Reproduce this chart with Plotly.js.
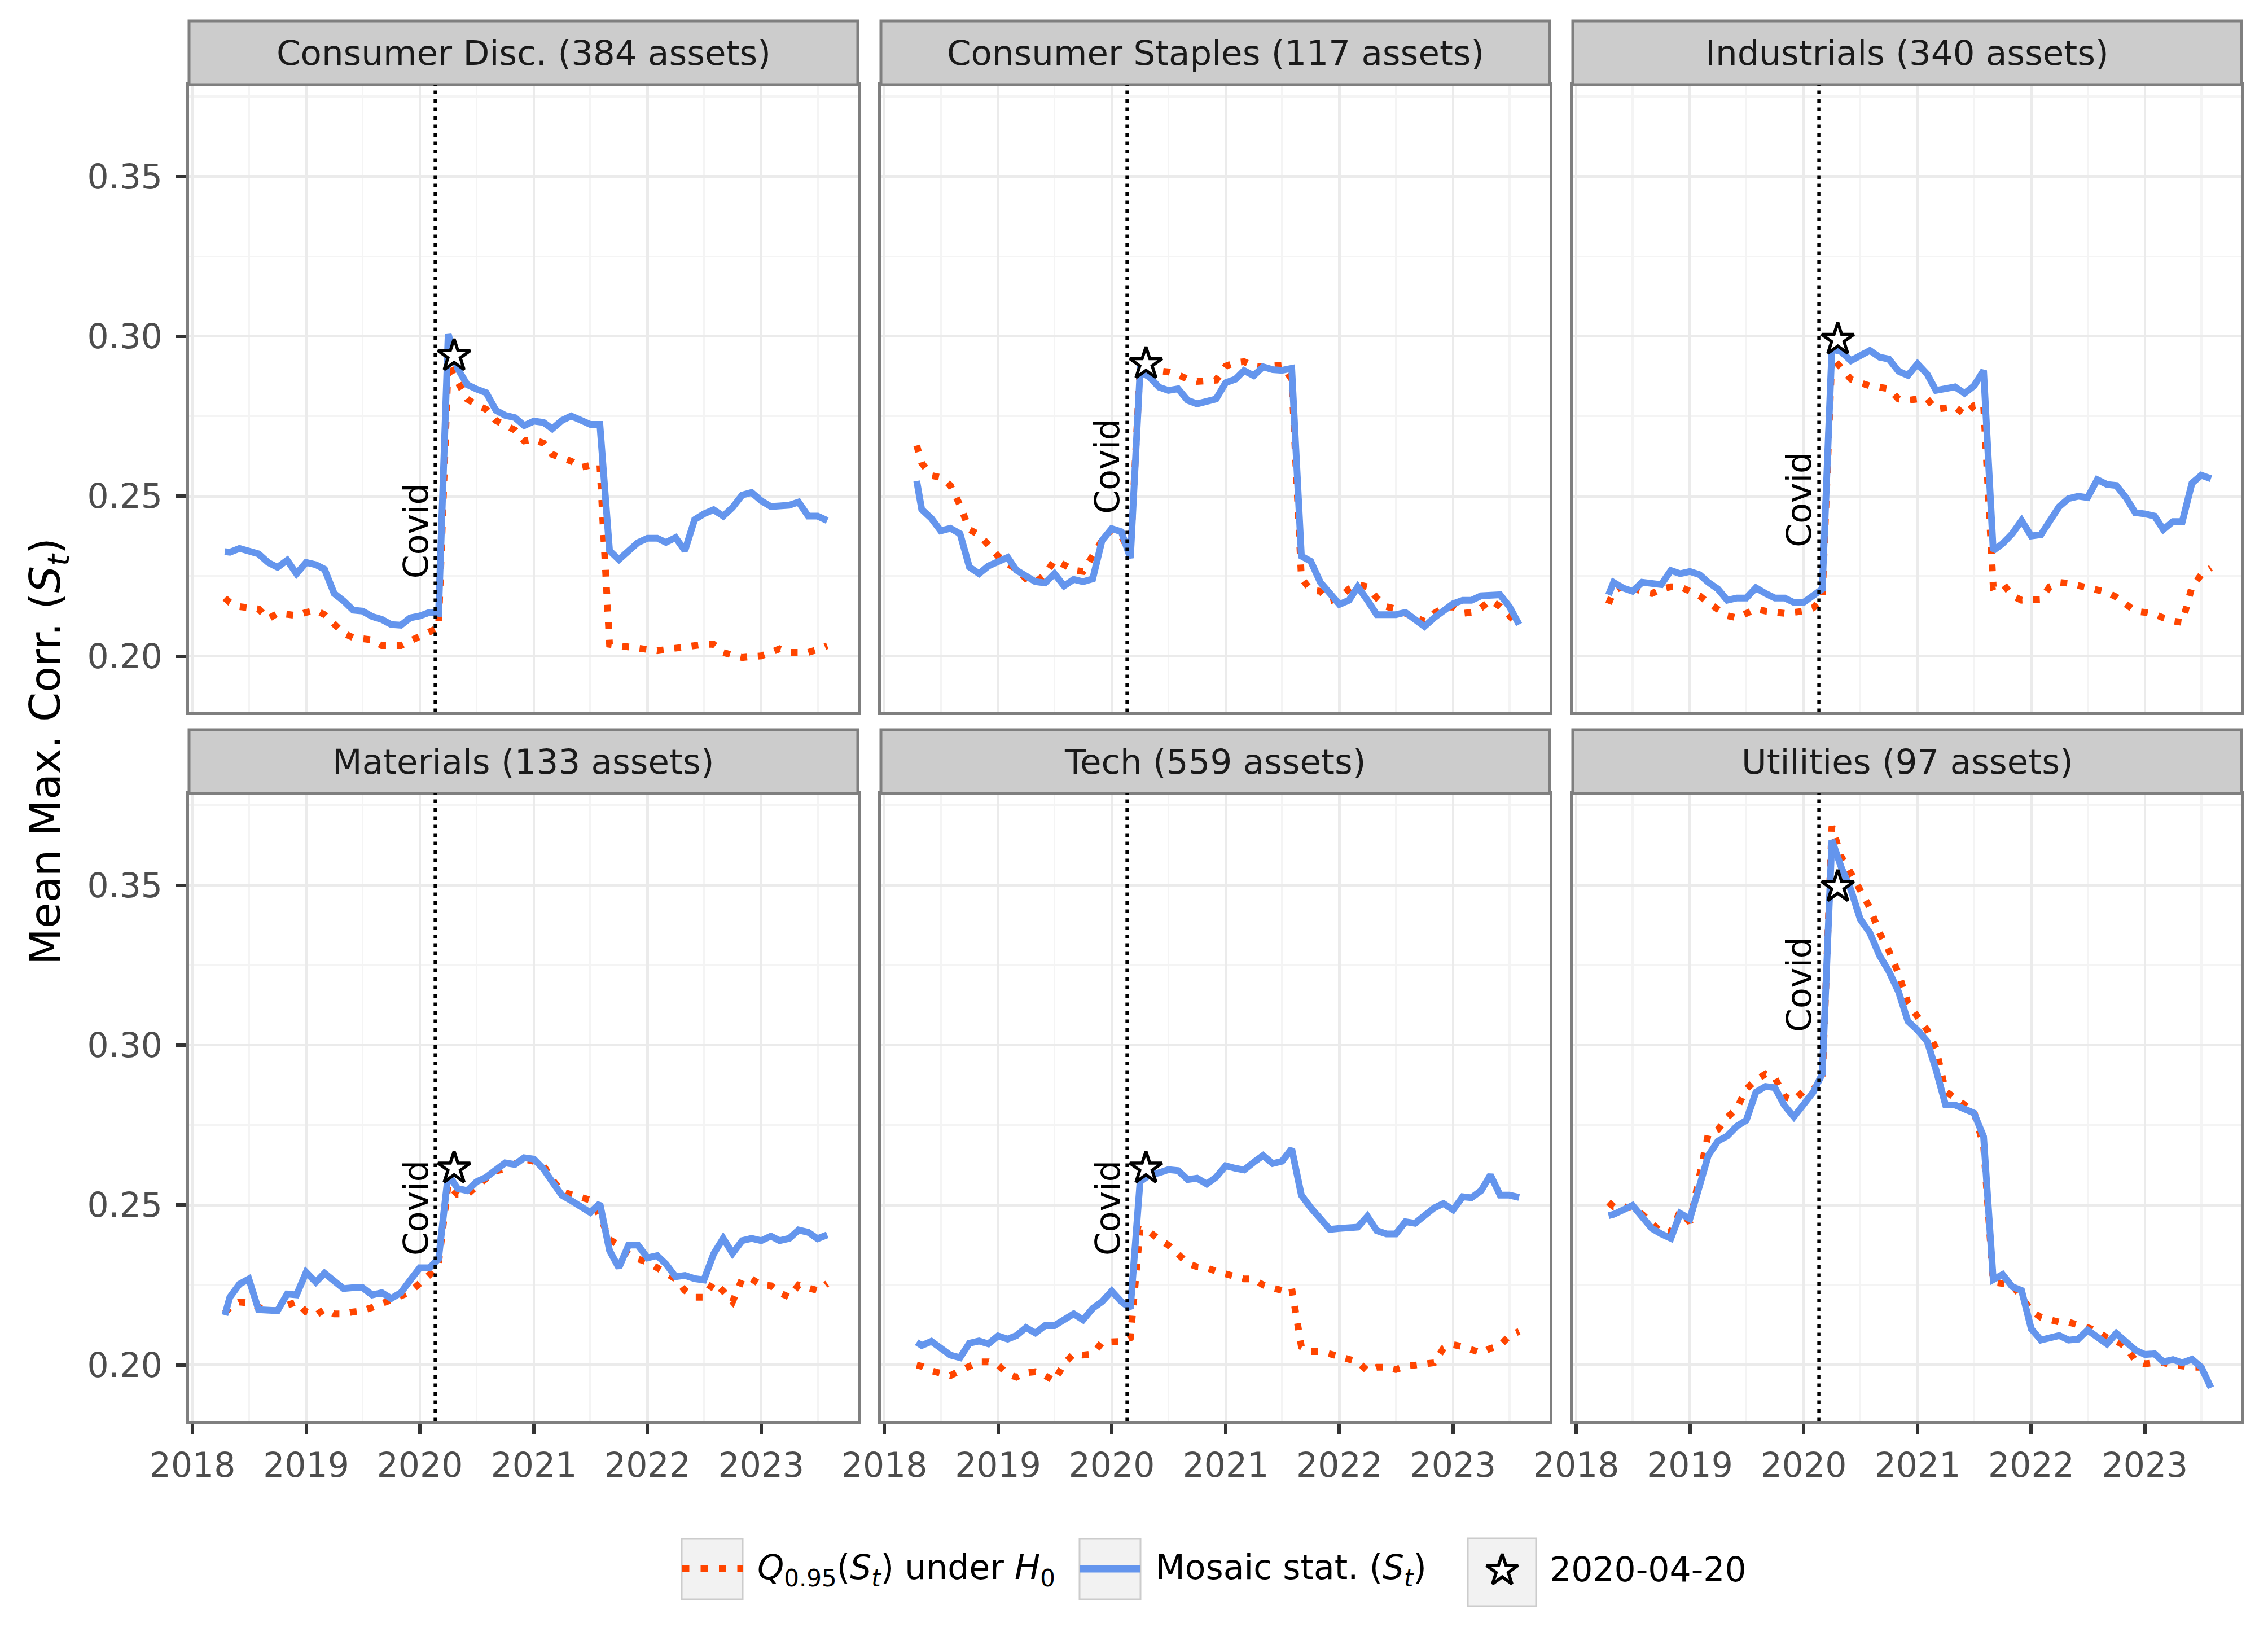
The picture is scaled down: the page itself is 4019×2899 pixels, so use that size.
<!DOCTYPE html>
<html>
<head>
<meta charset="utf-8">
<script src="https://cdn.plot.ly/plotly-3.0.1.min.js"></script>
<style>
html,body{margin:0;padding:0;background:#ffffff;}
#chart{width:4019px;height:2899px;}
</style>
</head>
<body>
<div id="chart"></div>
<script>
// ---------------- DATA ----------------
const dates = [
  "2018-04-15","2018-05-01","2018-06-01","2018-07-01","2018-08-01","2018-09-01","2018-10-01","2018-11-01","2018-12-01",
  "2019-01-01","2019-02-01","2019-03-01","2019-04-01","2019-05-01","2019-06-01","2019-07-01","2019-08-01","2019-09-01","2019-10-01","2019-11-01","2019-12-01",
  "2020-01-01","2020-02-01","2020-03-01","2020-04-01","2020-05-01","2020-06-01","2020-07-01","2020-08-01","2020-09-01","2020-10-01","2020-11-01","2020-12-01",
  "2021-01-01","2021-02-01","2021-03-01","2021-04-01","2021-05-01","2021-06-01","2021-07-01","2021-08-01","2021-09-01","2021-10-01","2021-11-01","2021-12-01",
  "2022-01-01","2022-02-01","2022-03-01","2022-04-01","2022-05-01","2022-06-01","2022-07-01","2022-08-01","2022-09-01","2022-10-01","2022-11-01","2022-12-01",
  "2023-01-01","2023-02-01","2023-03-01","2023-04-01","2023-05-01","2023-06-01","2023-07-01","2023-08-01"
];

const sectors = [
  "Consumer Disc. (384 assets)",
  "Consumer Staples (117 assets)",
  "Industrials (340 assets)",
  "Materials (133 assets)",
  "Tech (559 assets)",
  "Utilities (97 assets)"
];

// Mosaic statistic S_t
const mosaicConsDisc = [
  0.2327,0.2325,0.2337,0.2326,0.2320,0.2293,0.2278,0.2300,0.2258,
  0.2293,0.2286,0.2272,0.2196,0.2173,0.2144,0.2141,0.2124,0.2115,0.2099,0.2097,0.2120,
  0.2126,0.2137,0.2134,0.3008,0.2900,0.2849,0.2835,0.2824,0.2769,0.2753,0.2746,0.2721,
  0.2735,0.2731,0.2711,0.2737,0.2751,0.2739,0.2725,0.2725,0.2330,0.2302,0.2330,0.2355,
  0.2369,0.2369,0.2356,0.2371,0.2330,0.2427,0.2445,0.2458,0.2438,0.2465,0.2504,0.2512,
  0.2486,0.2468,0.2470,0.2472,0.2482,0.2438,0.2438,0.2424
];
const mosaicConsStap = [
  0.2548,0.2459,0.2431,0.2392,0.2400,0.2383,0.2279,0.2258,0.2282,
  0.2297,0.2309,0.2269,0.2251,0.2233,0.2229,0.2258,0.2220,0.2240,0.2233,0.2242,0.2362,
  0.2399,0.2389,0.2307,0.2890,0.2873,0.2841,0.2831,0.2836,0.2800,0.2789,0.2794,0.2804,
  0.2855,0.2866,0.2893,0.2877,0.2905,0.2896,0.2894,0.2900,0.2313,0.2297,0.2231,0.2199,
  0.2162,0.2175,0.2217,0.2175,0.2130,0.2130,0.2130,0.2137,0.2112,0.2093,0.2120,0.2145,
  0.2164,0.2175,0.2175,0.2189,0.2193,0.2192,0.2155,0.2099
];
const mosaicIndust = [
  0.2192,0.2231,0.2213,0.2203,0.2231,0.2225,0.2224,0.2268,0.2258,
  0.2265,0.2255,0.2231,0.2210,0.2175,0.2182,0.2182,0.2214,0.2196,0.2182,0.2182,0.2168,
  0.2168,0.2189,0.2210,0.2960,0.2952,0.2924,0.2942,0.2956,0.2935,0.2929,0.2891,0.2878,
  0.2914,0.2882,0.2831,0.2836,0.2842,0.2822,0.2845,0.2893,0.2330,0.2352,0.2383,0.2424,
  0.2376,0.2380,0.2424,0.2468,0.2493,0.2500,0.2496,0.2552,0.2537,0.2534,0.2496,0.2449,
  0.2445,0.2438,0.2396,0.2421,0.2421,0.2541,0.2566,0.2555
];
const mosaicMater = [
  0.2156,0.2212,0.2253,0.2269,0.2173,0.2173,0.2170,0.2222,0.2219,
  0.2290,0.2259,0.2287,0.2262,0.2239,0.2242,0.2242,0.2219,0.2226,0.2208,0.2226,0.2265,
  0.2304,0.2304,0.2332,0.2597,0.2552,0.2545,0.2573,0.2587,0.2608,0.2632,0.2627,0.2648,
  0.2644,0.2613,0.2573,0.2531,0.2514,0.2495,0.2477,0.2505,0.2358,0.2304,0.2375,0.2375,
  0.2335,0.2342,0.2316,0.2276,0.2280,0.2270,0.2266,0.2347,0.2396,0.2349,0.2389,0.2396,
  0.2389,0.2403,0.2389,0.2396,0.2422,0.2415,0.2395,0.2407
];
const mosaicTech = [
  0.2071,0.2061,0.2074,0.2050,0.2031,0.2023,0.2068,0.2075,0.2066,
  0.2091,0.2081,0.2092,0.2117,0.2100,0.2123,0.2123,0.2141,0.2160,0.2141,0.2177,0.2198,
  0.2231,0.2198,0.2177,0.2573,0.2594,0.2601,0.2611,0.2608,0.2580,0.2584,0.2566,0.2587,
  0.2623,0.2615,0.2610,0.2634,0.2655,0.2630,0.2637,0.2676,0.2531,0.2492,0.2460,0.2424,
  0.2427,0.2427,0.2431,0.2465,0.2420,0.2410,0.2410,0.2448,0.2443,0.2467,0.2491,0.2505,
  0.2485,0.2526,0.2523,0.2545,0.2594,0.2531,0.2531,0.2524
];
const mosaicUtil = [
  0.2467,0.2471,0.2485,0.2499,0.2463,0.2427,0.2410,0.2396,0.2474,
  0.2457,0.2560,0.2655,0.2700,0.2716,0.2747,0.2765,0.2853,0.2871,0.2867,0.2811,0.2776,
  0.2811,0.2853,0.2910,0.3641,0.3556,0.3486,0.3394,0.3351,0.3280,0.3231,0.3167,0.3075,
  0.3047,0.3012,0.2924,0.2813,0.2813,0.2799,0.2788,0.2714,0.2267,0.2283,0.2245,0.2233,
  0.2113,0.2078,0.2085,0.2092,0.2078,0.2081,0.2109,0.2085,0.2066,0.2099,0.2071,0.2047,
  0.2033,0.2035,0.2010,0.2017,0.2007,0.2018,0.1993,0.1929
];

// Q_0.95(S_t) under H_0
const qConsDisc = [
  0.2182,0.2168,0.2155,0.2151,0.2148,0.2117,0.2134,0.2131,0.2127,
  0.2137,0.2144,0.2130,0.2099,0.2072,0.2058,0.2055,0.2051,0.2033,0.2032,0.2033,0.2048,
  0.2065,0.2076,0.2090,0.2915,0.2859,0.2804,0.2786,0.2772,0.2737,0.2721,0.2707,0.2673,
  0.2677,0.2666,0.2631,0.2620,0.2610,0.2590,0.2597,0.2597,0.2037,0.2033,0.2030,0.2028,
  0.2023,0.2017,0.2021,0.2026,0.2030,0.2037,0.2037,0.2037,0.2012,0.2003,0.1996,0.1999,
  0.2001,0.2012,0.2023,0.2012,0.2010,0.2012,0.2021,0.2033
];
const qConsStap = [
  0.2659,0.2604,0.2565,0.2559,0.2534,0.2472,0.2396,0.2380,0.2348,
  0.2313,0.2289,0.2272,0.2242,0.2231,0.2255,0.2300,0.2286,0.2269,0.2265,0.2311,0.2362,
  0.2396,0.2376,0.2320,0.2900,0.2896,0.2893,0.2889,0.2880,0.2866,0.2859,0.2859,0.2863,
  0.2907,0.2918,0.2921,0.2907,0.2905,0.2907,0.2910,0.2866,0.2244,0.2207,0.2203,0.2173,
  0.2182,0.2210,0.2224,0.2217,0.2182,0.2155,0.2148,0.2134,0.2120,0.2109,0.2134,0.2151,
  0.2155,0.2134,0.2137,0.2151,0.2175,0.2155,0.2127,0.2093
];
const qIndust = [
  0.2164,0.2203,0.2221,0.2210,0.2203,0.2196,0.2210,0.2217,0.2217,
  0.2203,0.2189,0.2167,0.2144,0.2127,0.2120,0.2134,0.2148,0.2141,0.2137,0.2134,0.2137,
  0.2141,0.2151,0.2182,0.2935,0.2900,0.2866,0.2855,0.2845,0.2841,0.2836,0.2804,0.2800,
  0.2804,0.2804,0.2772,0.2776,0.2780,0.2755,0.2783,0.2786,0.2217,0.2228,0.2189,0.2175,
  0.2175,0.2178,0.2217,0.2231,0.2228,0.2220,0.2214,0.2206,0.2200,0.2185,0.2164,0.2141,
  0.2137,0.2131,0.2120,0.2110,0.2106,0.2217,0.2255,0.2276
];
const qMater = [
  0.2163,0.2180,0.2197,0.2194,0.2181,0.2170,0.2170,0.2187,0.2197,
  0.2166,0.2156,0.2174,0.2160,0.2160,0.2166,0.2170,0.2180,0.2194,0.2205,0.2216,0.2229,
  0.2255,0.2282,0.2318,0.2566,0.2533,0.2533,0.2559,0.2584,0.2607,0.2613,0.2627,0.2644,
  0.2637,0.2623,0.2580,0.2542,0.2533,0.2526,0.2516,0.2467,0.2392,0.2375,0.2349,0.2332,
  0.2321,0.2304,0.2290,0.2269,0.2233,0.2212,0.2212,0.2259,0.2231,0.2198,0.2269,0.2269,
  0.2250,0.2248,0.2226,0.2212,0.2250,0.2241,0.2233,0.2255
];
const qTech = [
  0.2000,0.1996,0.1982,0.1976,0.1967,0.1982,0.1993,0.2010,0.2010,
  0.2000,0.1972,0.1962,0.1976,0.1979,0.1967,0.1950,0.2004,0.2035,0.2031,0.2035,0.2071,
  0.2071,0.2074,0.2085,0.2424,0.2417,0.2392,0.2375,0.2349,0.2318,0.2307,0.2304,0.2293,
  0.2283,0.2273,0.2269,0.2269,0.2250,0.2241,0.2233,0.2239,0.2057,0.2042,0.2042,0.2035,
  0.2027,0.2021,0.2010,0.1982,0.1993,0.1993,0.1986,0.1996,0.2000,0.2004,0.2007,0.2052,
  0.2064,0.2057,0.2047,0.2038,0.2052,0.2061,0.2092,0.2105
];
const qUtil = [
  0.2509,0.2495,0.2495,0.2491,0.2471,0.2439,0.2415,0.2417,0.2481,
  0.2446,0.2600,0.2722,0.2736,0.2774,0.2802,0.2863,0.2891,0.2910,0.2898,0.2839,0.2828,
  0.2856,0.2863,0.2884,0.3684,0.3589,0.3538,0.3486,0.3429,0.3351,0.3295,0.3224,0.3132,
  0.3089,0.3047,0.2990,0.2856,0.2835,0.2816,0.2792,0.2686,0.2259,0.2255,0.2250,0.2212,
  0.2170,0.2149,0.2141,0.2134,0.2134,0.2127,0.2117,0.2106,0.2085,0.2075,0.2057,0.2014,
  0.2004,0.2007,0.2007,0.2001,0.1996,0.1993,0.1993,0.1979
];

const mosaicSeries = [mosaicConsDisc, mosaicConsStap, mosaicIndust, mosaicMater, mosaicTech, mosaicUtil];
const qSeries = [qConsDisc, qConsStap, qIndust, qMater, qTech, qUtil];

const starDate = "2020-04-20";
const starValues = [0.2939, 0.2914, 0.2990, 0.2615, 0.2615, 0.3495];
const covidDate = "2020-02-20";
const covidLabelY = [0.2392, 0.2594, 0.2490, 0.2491, 0.2491, 0.3190];

const yTickVals = [0.20, 0.25, 0.30, 0.35];
const legendLabels = [
  "<i>Q</i><sub>0.95</sub>(<i>S</i><sub><i>t</i></sub>) under <i>H</i><sub>0</sub>",
  "Mosaic stat. (<i>S</i><sub><i>t</i></sub>)",
  "2020-04-20"
];
const yTitle = "Mean Max. Corr. (<i>S</i><sub><i>t</i></sub>)";

// ---------------- LAYOUT ----------------
const W = 4019, H = 2899;
const px = v => v / W;
const py = v => 1 - v / H;
const colX = [[335, 1520], [1561, 2746], [2787, 3972]];
const rowY = [[150, 1262], [1406, 2518]];
const stripH = 113;
const FONT = "DejaVu Sans";
const RED = "#FF4500", BLUE = "#6495ED";

const layout = {
  width: W, height: H, autosize: false,
  margin: {l: 0, r: 0, t: 0, b: 0, pad: 0},
  paper_bgcolor: "#ffffff", plot_bgcolor: "rgba(0,0,0,0)",
  showlegend: false,
  font: {family: FONT, size: 60, color: "#000000"},
  shapes: [], annotations: []
};
const traces = [];

for (let i = 0; i < 6; i++) {
  const r = Math.floor(i / 3), c = i % 3;
  const sfx = i === 0 ? "" : String(i + 1);
  const xr = "x" + sfx, yr = "y" + sfx;
  const bottom = r === 1, left = c === 0;
  layout["xaxis" + sfx] = {
    type: "date", domain: [px(colX[c][0]), px(colX[c][1])], anchor: yr,
    range: ["2017-12-21", "2023-11-07"],
    tick0: "2018-01-01", dtick: "M12", tickformat: "%Y",
    showgrid: true, gridcolor: "#ebebeb", gridwidth: 4.7,
    minor: {tick0: "2018-01-01", dtick: "M6", showgrid: true, gridcolor: "#f4f4f4", gridwidth: 3.5},
    showline: true, mirror: true, linecolor: "#7f7f7f", linewidth: 5,
    zeroline: false,
    ticks: bottom ? "outside" : "", ticklen: 18, tickwidth: 6, tickcolor: "#333333",
    showticklabels: bottom, ticklabelstandoff: 4,
    tickfont: {family: FONT, size: 60, color: "#4d4d4d"},
    fixedrange: true
  };
  layout["yaxis" + sfx] = {
    domain: [py(rowY[r][1]), py(rowY[r][0])], anchor: xr,
    range: [0.1825, 0.3787],
    tickvals: yTickVals, tickformat: ".2f",
    showgrid: true, gridcolor: "#ebebeb", gridwidth: 4.7,
    minor: {tick0: 0.2, dtick: 0.025, showgrid: true, gridcolor: "#f4f4f4", gridwidth: 3.5},
    showline: true, mirror: true, linecolor: "#7f7f7f", linewidth: 5,
    zeroline: false,
    ticks: left ? "outside" : "", ticklen: 18, tickwidth: 6, tickcolor: "#333333",
    showticklabels: left, ticklabelstandoff: 12,
    tickfont: {family: FONT, size: 60, color: "#4d4d4d"},
    fixedrange: true
  };

  // strip
  layout.shapes.push({
    type: "rect", xref: "paper", yref: "paper",
    x0: px(colX[c][0]), x1: px(colX[c][1]),
    y0: py(rowY[r][0]), y1: py(rowY[r][0] - stripH),
    fillcolor: "#cccccc", line: {color: "#7f7f7f", width: 5}, layer: "above"
  });
  layout.annotations.push({
    xref: "paper", yref: "paper",
    x: px((colX[c][0] + colX[c][1]) / 2), y: py(rowY[r][0] - stripH / 2),
    text: sectors[i], showarrow: false, xanchor: "center", yanchor: "middle",
    font: {family: FONT, size: 61, color: "#1a1a1a"}
  });

  // covid line + label
  layout.shapes.push({
    type: "line", xref: xr, yref: yr + " domain",
    x0: covidDate, x1: covidDate, y0: 0, y1: 1,
    line: {color: "#000000", width: 6.5, dash: "6.5px,8.5px"}, layer: "above"
  });
  layout.annotations.push({
    xref: xr, yref: yr, x: covidDate, y: covidLabelY[i],
    text: "Covid", textangle: -90, showarrow: false,
    xanchor: "right", yanchor: "middle", xshift: 2,
    font: {family: FONT, size: 60, color: "#000000"}
  });

  traces.push({
    x: dates, y: qSeries[i], xaxis: xr, yaxis: yr, type: "scatter", mode: "lines",
    name: "Q0.95(St) under H0", hoverinfo: "skip",
    line: {color: RED, width: 12, dash: "12px,19px"}
  });
  traces.push({
    x: dates, y: mosaicSeries[i], xaxis: xr, yaxis: yr, type: "scatter", mode: "lines",
    name: "Mosaic stat. (St)", hoverinfo: "skip",
    line: {color: BLUE, width: 12}
  });
  traces.push({
    x: [starDate], y: [starValues[i]], xaxis: xr, yaxis: yr, type: "scatter", mode: "markers",
    name: "2020-04-20", hoverinfo: "skip", cliponaxis: false,
    marker: {symbol: "star", size: 43, color: "#ffffff", line: {color: "#000000", width: 5.5}}
  });
}

// y axis title
layout.annotations.push({
  xref: "paper", yref: "paper", x: px(85), y: py(1332),
  text: yTitle, textangle: -90, showarrow: false,
  xanchor: "center", yanchor: "middle",
  font: {family: FONT, size: 75, color: "#000000"}
});

// ---------------- custom legend ----------------
const legBoxes = [[1208, 1316, 2727, 2834], [1913, 2021, 2727, 2834], [2601, 2722, 2726, 2846]];
legBoxes.forEach(b => {
  layout.shapes.push({
    type: "rect", xref: "paper", yref: "paper", layer: "below",
    x0: px(b[0]), x1: px(b[1]), y0: py(b[3]), y1: py(b[2]),
    fillcolor: "#f2f2f2", line: {color: "#cccccc", width: 3}
  });
});
layout.shapes.push({
  type: "line", xref: "paper", yref: "paper",
  x0: px(1209), x1: px(1316), y0: py(2780), y1: py(2780),
  line: {color: RED, width: 12, dash: "12.5px,20px"}
});
layout.shapes.push({
  type: "line", xref: "paper", yref: "paper",
  x0: px(1914), x1: px(2020), y0: py(2780), y1: py(2780),
  line: {color: BLUE, width: 13}
});
const legTextX = [1340, 2046, 2744];
legendLabels.forEach((t, k) => {
  layout.annotations.push({
    xref: "paper", yref: "paper", x: px(legTextX[k]), y: py(2781),
    text: t, showarrow: false, xanchor: "left", yanchor: "middle",
    font: {family: FONT, size: 60, color: "#000000"}
  });
});
// overlay axes for the legend star symbol
layout.xaxis7 = {domain: [0, 1], range: [0, 1], visible: false, anchor: "y7", fixedrange: true};
layout.yaxis7 = {domain: [0, 1], range: [0, 1], visible: false, anchor: "x7", fixedrange: true};
traces.push({
  x: [px(2662)], y: [py(2783)], xaxis: "x7", yaxis: "y7", type: "scatter", mode: "markers",
  hoverinfo: "skip", cliponaxis: false,
  marker: {symbol: "star", size: 42, color: "#ffffff", line: {color: "#000000", width: 5.5}}
});

Plotly.newPlot("chart", traces, layout, {displayModeBar: false, staticPlot: true});
</script>
</body>
</html>
